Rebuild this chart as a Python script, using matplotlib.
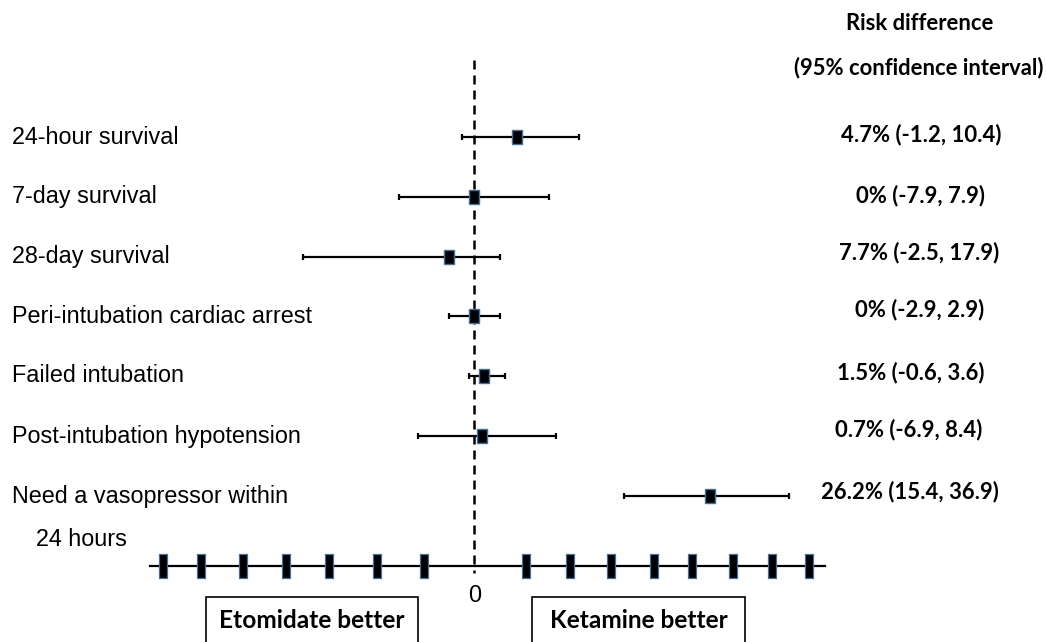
import numpy as np
import matplotlib
matplotlib.use("Agg")
import matplotlib.pyplot as plt
from matplotlib.patches import Rectangle

# Outcomes and estimates (risk difference, %)
outcomes = ["24-hour survival", "7-day survival", "28-day survival",
            "Peri-intubation cardiac arrest", "Failed intubation",
            "Post-intubation hypotension", "Need a vasopressor within"]
point = [4.8, 0.0, -2.7, 0.0, 1.2, 0.9, 26.3]
lower = [-1.3, -8.3, -18.9, -2.7, -0.5, -6.2, 16.7]
upper = [11.7, 8.4, 2.9, 2.9, 3.5, 9.2, 35.1]
ci_labels = ["4.7% (-1.2, 10.4)", "0% (-7.9, 7.9)", "7.7% (-2.5, 17.9)",
             "0% (-2.9, 2.9)", "1.5% (-0.6, 3.6)", "0.7% (-6.9, 8.4)",
             "26.2% (15.4, 36.9)"]
axis_ticks = [-34.5, -30.3, -25.6, -20.8, -16.1, -10.7, -5.5,
              5.8, 10.7, 15.3, 20.0, 24.3, 28.8, 33.2, 37.3]

W, H = 1046, 642
PX = 9.0          # pixels per percentage point
ZERO = 473.5      # pixel x of zero
ROW0, ROWH = 137, 59.8

fig = plt.figure(figsize=(W / 100, H / 100), dpi=100)
ax = fig.add_axes([0, 0, 1, 1])
ax.set_xlim(-ZERO / PX, (W - ZERO) / PX)
ax.set_ylim((H - ROW0) / ROWH, -ROW0 / ROWH)
ax.axis("off")

edge = "#41719C"
rect_pt = [(-0.37, -0.5), (0.37, -0.5), (0.37, 0.5), (-0.37, 0.5), (-0.37, -0.5)]
tick_pt = [(-0.18, -0.5), (0.18, -0.5), (0.18, 0.5), (-0.18, 0.5), (-0.18, -0.5)]

rows = np.arange(len(outcomes))
axis_row = (566 - ROW0) / ROWH

# zero reference line
ax.plot([0, 0], [(60 - ROW0) / ROWH, (573 - ROW0) / ROWH], color="black",
        lw=1.8, linestyle=(0, (3.6, 2.4)), zorder=1)

# estimates with CI
p = np.array(point)
xerr = [p - np.array(lower), np.array(upper) - p]
ax.errorbar(p, rows, xerr=xerr, fmt="none", ecolor="black", elinewidth=1.6,
            capsize=2.5, capthick=1.6, zorder=2)
ax.plot(p, rows, linestyle="none", marker=rect_pt, markersize=10,
        markerfacecolor="black", markeredgecolor=edge, markeredgewidth=1.0,
        zorder=3)

# bottom scale
ax.plot([-35.9, 39.1], [axis_row, axis_row], color="black", lw=1.6, zorder=2)
ax.plot(axis_ticks, [axis_row] * len(axis_ticks), linestyle="none",
        marker=tick_pt, markersize=17, markerfacecolor="black",
        markeredgecolor=edge, markeredgewidth=0.9, zorder=3)

def fx(px):
    return px / W

def fy(py):
    return 1 - py / H

sans = "Liberation Sans"
bold = "Lato"

# left labels
label_y = [137, 196, 256, 316, 376, 436, 496]
for name, y in zip(outcomes, label_y):
    fig.text(fx(12), fy(y), name, fontsize=16.8, family=sans,
             ha="left", va="center")
fig.text(fx(36), fy(540), "24 hours", fontsize=16.8, family=sans,
         ha="left", va="center")

# right column
fig.text(fx(920), fy(24), "Risk difference", fontsize=15.8, family=bold,
         weight="bold", ha="center", va="center")
fig.text(fx(919), fy(68), "(95% confidence interval)", fontsize=15.8,
         family=bold, weight="bold", ha="center", va="center")
ci_x = [921, 920, 919, 920, 911, 909, 910]
ci_y = [135, 196, 253, 310, 373, 430, 492]
for txt, x, y in zip(ci_labels, ci_x, ci_y):
    fig.text(fx(x), fy(y), txt, fontsize=15.9, family=bold, weight="bold",
             ha="center", va="center")

# zero label
fig.text(fx(475), fy(596), "0", fontsize=16.8, family=sans,
         ha="center", va="center")

# direction boxes
for x0, x1, txt in [(206, 418, "Etomidate better"), (532, 745, "Ketamine better")]:
    fig.patches.append(Rectangle((fx(x0), fy(700)), fx(x1) - fx(x0),
                                 fy(597) - fy(700), transform=fig.transFigure,
                                 fill=False, edgecolor="black", lw=1.2))
    fig.text(fx((x0 + x1) / 2), fy(621), txt, fontsize=17.6, family=bold,
             weight="bold", ha="center", va="center")

fig.savefig("out.png", dpi=100)
